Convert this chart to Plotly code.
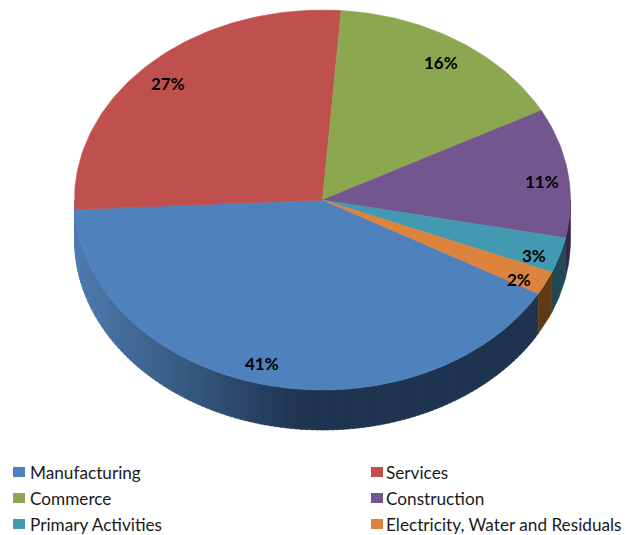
import math
import plotly.graph_objects as go

# Share of each sector, in percent
categories = ["Manufacturing", "Services", "Commerce", "Construction",
              "Primary Activities", "Electricity, Water and Residuals"]
shares = [41, 27, 16, 11, 3, 2]

top_colors = ["#4f81bd", "#c0504d", "#8da650", "#73568f", "#4299b1", "#dc843e"]
wall_colors = ["#1f3450", None, "#4e5f2a", "#33264a", "#1f4a55", "#5f3a17"]

# Small hand adjustments to the percent labels, in pixels
label_nudges = [(-9, -6), (1, 3), (-3, 3), (-1, 3), (-2, 3), (-4, 2)]

WIDTH, HEIGHT = 626, 535
CX, CY, RX, RY = 322.5, 200, 248, 190
DEPTH = 40
START = 0.332  # fraction of a turn, clockwise from twelve o'clock, where Manufacturing begins


def rim(turn, drop=0.0):
    a = 2 * math.pi * turn
    return CX + RX * math.sin(a), CY - RY * math.cos(a) + drop


def blend(c1, c2, t):
    p = [int(c1[i:i + 2], 16) for i in (1, 3, 5)]
    q = [int(c2[i:i + 2], 16) for i in (1, 3, 5)]
    return "rgb({},{},{})".format(*[round(a + (b - a) * t) for a, b in zip(p, q)])


def patch(xs, ys, color, width=0.6):
    return go.Scatter(x=xs, y=ys, mode="lines", fill="toself", fillcolor=color,
                      line=dict(color=color, width=width), hoverinfo="skip", showlegend=False)


def wall_patch(t0, t1, color, width=0.6, steps=24):
    ts = [t0 + (t1 - t0) * i / steps for i in range(steps + 1)]
    upper = [rim(t) for t in ts]
    lower = [rim(t, DEPTH) for t in reversed(ts)]
    xs = [p[0] for p in upper + lower] + [upper[0][0]]
    ys = [p[1] for p in upper + lower] + [upper[0][1]]
    return patch(xs, ys, color, width)


fig = go.Figure()

# Slice extents as turn intervals
spans = []
pos = START
for share in shares:
    spans.append((pos, pos + share / 100))
    pos += share / 100

# Outer wall, only the part facing the viewer (a quarter to three quarters of a turn).
# The Manufacturing wall runs right up to the left extreme of the pie.
for idx in range(len(shares)):
    if wall_colors[idx] is None:
        continue
    a, b = spans[idx]
    if idx == 0:
        lo, hi = a, 0.75
        strips = int((hi - lo) * 300)
        for s in range(strips):
            t0 = lo + (hi - lo) * s / strips
            t1 = lo + (hi - lo) * (s + 1) / strips
            # shading brightens toward the left end of the wall
            xm = rim((t0 + t1) / 2)[0]
            mix = min(1.0, max(0.0, (xm - 75) / 225))
            fig.add_trace(wall_patch(t0, min(t1 + 0.002, hi), blend("#4e7cb0", wall_colors[0], mix), 0.4, 4))
    else:
        # slices after Services run past a full turn, so fold them back first
        lo, hi = max(a % 1, 0.25), min(b - (a - a % 1), 0.75)
        if hi > lo:
            fig.add_trace(wall_patch(lo, hi, wall_colors[idx]))

# Top face
for idx, (a, b) in enumerate(spans):
    n = max(8, int((b - a) * 360))
    pts = [rim(a + (b - a) * i / n) for i in range(n + 1)]
    xs = [CX] + [p[0] for p in pts] + [CX]
    ys = [CY] + [p[1] for p in pts] + [CY]
    fig.add_trace(patch(xs, ys, top_colors[idx]))

annotations = []
# Percent labels sit at nine tenths of the radius along each slice's middle angle
for share, (a, b), (nx, ny) in zip(shares, spans, label_nudges):
    turn = (a + b) / 2
    x = CX + 0.9 * RX * math.sin(2 * math.pi * turn) + nx
    y = CY - 0.9 * RY * math.cos(2 * math.pi * turn) + 3 + ny
    annotations.append(dict(x=x, y=y, text=f"{share}%", showarrow=False, xref="x", yref="y",
                            font=dict(family="Lato", size=17, color="#000000", weight="bold")))

# Two-column key under the pie
shapes = []
for i, name in enumerate(categories):
    col, row = i % 2, i // 2
    x0 = 13 if col == 0 else 371
    yc = 472 + row * 26
    shapes.append(dict(type="rect", x0=x0, x1=x0 + 12, y0=yc - 5, y1=yc + 5, xref="x", yref="y",
                       fillcolor=top_colors[i], line=dict(width=0)))
    annotations.append(dict(x=x0 + (15 if col == 0 else 13), y=yc, text=name, showarrow=False,
                            xanchor="left", xref="x", yref="y",
                            font=dict(family="Lato", size=17.2, color="#1a1a1a")))

fig.update_layout(
    width=WIDTH, height=HEIGHT, margin=dict(l=0, r=0, t=0, b=0),
    paper_bgcolor="white", plot_bgcolor="white", showlegend=False,
    xaxis=dict(range=[0, WIDTH], visible=False, fixedrange=True),
    yaxis=dict(range=[HEIGHT, 0], visible=False, fixedrange=True),
    annotations=annotations, shapes=shapes,
)
fig.write_html("out.html")
